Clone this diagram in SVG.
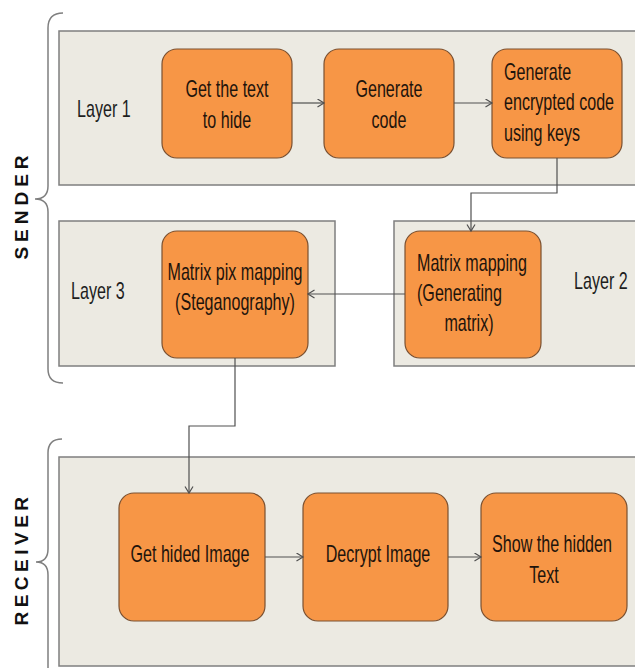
<svg xmlns="http://www.w3.org/2000/svg" width="635" height="668" viewBox="0 0 635 668">
<defs>
<style>
.panel{fill:#ECEAE2;stroke:#7F7F7F;stroke-width:1.5}
.box{fill:#F79646;stroke:#7A5030;stroke-width:1.2}
.t{font-family:"Liberation Sans",Arial,sans-serif;font-size:23px;fill:#1E140C}
.lbl{font-family:"Liberation Sans",Arial,sans-serif;font-size:23px;fill:#1E1E1E}
.side{font-family:"Liberation Sans",Arial,sans-serif;font-size:19px;font-weight:bold;fill:#111}
.conn{fill:none;stroke:#505050;stroke-width:1.2}
.brace{fill:none;stroke:#7F7F7F;stroke-width:1.5}
</style>
<marker id="arr" markerUnits="userSpaceOnUse" markerWidth="10" markerHeight="10" refX="7" refY="4.5" orient="auto">
<path d="M0.5,0.5 L7,4.5 L0.5,8.5" fill="none" stroke="#505050" stroke-width="1.2"/>
</marker>
</defs>
<rect width="635" height="668" fill="#FFFFFF"/>

<g id="sender-brace">
<path class="brace" d="M63,13 Q48,13 48,28 L48,186 Q48,199 35,199 Q48,199 48,212 L48,369 Q48,383 63,383"/>
<text class="side" text-anchor="middle" letter-spacing="5" transform="translate(28,205) rotate(-90)">SENDER</text>
</g>
<g id="receiver-brace">
<path class="brace" d="M62,439 Q48,439 48,453 L48,549 Q48,562 36,562 Q48,562 48,575 L48,680"/>
<text class="side" text-anchor="middle" letter-spacing="4.5" transform="translate(28,559) rotate(-90)">RECEIVER</text>
</g>

<g id="layer1">
<rect class="panel" x="59" y="31" width="600" height="154"/>
<text class="lbl" transform="translate(77,117) scale(0.7,1)">Layer 1</text>
</g>
<g id="layer3">
<rect class="panel" x="59" y="221" width="276" height="145"/>
<text class="lbl" transform="translate(71,299) scale(0.7,1)">Layer 3</text>
</g>
<g id="layer2">
<rect class="panel" x="394" y="221" width="265" height="145"/>
<text class="lbl" transform="translate(574,289) scale(0.7,1)">Layer 2</text>
</g>
<g id="receiver">
<rect class="panel" x="59" y="457" width="600" height="209"/>
</g>

<g id="get-text">
<rect class="box" x="162" y="49" width="130" height="109" rx="15"/>
<text class="t" text-anchor="middle" transform="translate(227,97) scale(0.7,1)"><tspan x="0">Get the text</tspan><tspan x="0" dy="31">to hide</tspan></text>
</g>
<g id="generate-code">
<rect class="box" x="324" y="49" width="130" height="109" rx="15"/>
<text class="t" text-anchor="middle" transform="translate(389,97) scale(0.7,1)"><tspan x="0">Generate</tspan><tspan x="0" dy="31">code</tspan></text>
</g>
<g id="encrypt-code">
<rect class="box" x="492" y="49" width="130" height="109" rx="15"/>
<text class="t" transform="translate(504,80) scale(0.7,1)"><tspan x="0">Generate</tspan><tspan x="0" dy="30.5">encrypted code</tspan><tspan x="0" dy="30.5">using keys</tspan></text>
</g>
<g id="matrix-mapping">
<rect class="box" x="405" y="231" width="136" height="127" rx="15"/>
<text class="t" transform="translate(417,271) scale(0.7,1)"><tspan x="0">Matrix mapping</tspan><tspan x="0" dy="30">(Generating</tspan></text>
<text class="t" text-anchor="middle" transform="translate(469,331) scale(0.7,1)">matrix)</text>
</g>
<g id="matrix-pix">
<rect class="box" x="162" y="231" width="146" height="127" rx="15"/>
<text class="t" text-anchor="middle" transform="translate(235,280) scale(0.7,1)"><tspan x="0">Matrix pix mapping</tspan><tspan x="0" dy="30">(Steganography)</tspan></text>
</g>
<g id="get-hided">
<rect class="box" x="119" y="493" width="146" height="128" rx="15"/>
<text class="t" text-anchor="middle" transform="translate(190,562) scale(0.7,1)">Get hided Image</text>
</g>
<g id="decrypt">
<rect class="box" x="303" y="493" width="145" height="128" rx="15"/>
<text class="t" text-anchor="middle" transform="translate(378,562) scale(0.7,1)">Decrypt Image</text>
</g>
<g id="show-text">
<rect class="box" x="481" y="493" width="146" height="128" rx="15"/>
<text class="t" text-anchor="middle" transform="translate(552,552) scale(0.7,1)">Show the hidden</text>
<text class="t" text-anchor="middle" transform="translate(544,583) scale(0.7,1)">Text</text>
</g>

<g id="connectors">
<path class="conn" marker-end="url(#arr)" d="M292,103 L324,103"/>
<path class="conn" marker-end="url(#arr)" d="M454,103 L492,103"/>
<path class="conn" marker-end="url(#arr)" d="M557,158 L557,193 L471,193 L471,231"/>
<path class="conn" marker-end="url(#arr)" d="M405,294 L308,294"/>
<path class="conn" marker-end="url(#arr)" d="M235,358 L235,426 L189,426 L189,493"/>
<path class="conn" marker-end="url(#arr)" d="M265,557 L303,557"/>
<path class="conn" marker-end="url(#arr)" d="M448,557 L481,557"/>
</g>
</svg>
